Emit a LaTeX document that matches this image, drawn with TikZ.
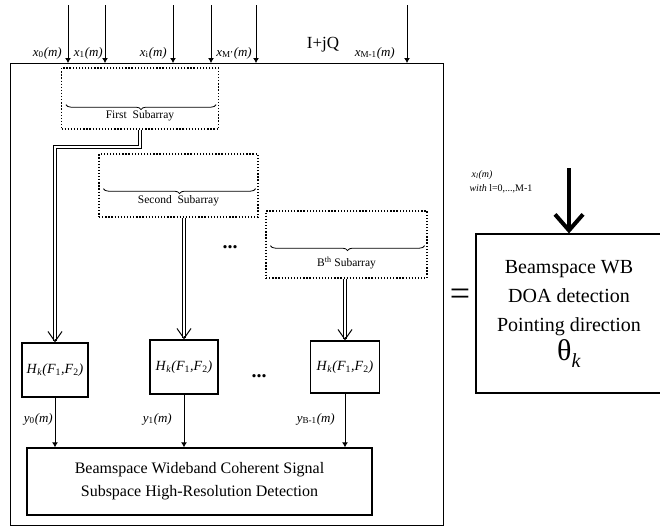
\documentclass[tikz,border=0pt]{standalone}
\usepackage{fontspec}
\setmainfont{Liberation Serif}
\usetikzlibrary{arrows.meta,positioning,calc,decorations.pathreplacing}
% signal names set in the text italic
\newcommand{\sig}[2]{\textit{#1}\textsubscript{#2}\textit{(m)}}
\newcommand{\hfilt}{\textit{H}\textsubscript{\textit{k}}\textit{(F}\textsubscript{1}\textit{,F}\textsubscript{2}\textit{)}}
\tikzset{
  frame/.style={draw=black, line width=1.3pt, inner sep=0pt},
  subbox/.style={draw=black, line width=1.3pt, dash pattern=on 1.3pt off 1.8pt, inner sep=0pt},
  filt/.style={draw=black, line width=1.3pt, inner sep=1pt, minimum height=54pt, font=\fontsize{14}{16}\selectfont},
  bigbox/.style={draw=black, line width=1.2pt, align=center, inner sep=2pt},
  brc/.style={decorate, decoration={brace, mirror, amplitude=5pt}, line width=0.8pt},
  sublbl/.style={inner sep=0pt, font=\fontsize{11.5}{13}\selectfont},
  lbl/.style={inner sep=0pt, font=\fontsize{13}{15}\selectfont},
  inarrow/.style={-{Latex[length=5pt,width=6pt]}, line width=1pt},
  dbl/.style={double, double distance=2pt, line width=1pt},
  barb/.style={-{Straight Barb[length=10pt,width=14pt]}, line width=1pt},
  bigarrow/.style={-{Straight Barb[length=16pt,width=28pt]}, line width=4pt},
  dots/.style={inner sep=0pt, font=\fontsize{20}{20}\selectfont\bfseries}
}

\begin{document}
\begin{tikzpicture}[x=1pt, y=-1pt]
\useasboundingbox (0,0) rectangle (660,528);

% outer frame and the array inputs
\node[frame, minimum width=433pt, minimum height=462pt, anchor=north west] (frame) at (10,63) {};
\foreach \xx [count=\i] in {68,105,173,211,256,407} {
  \coordinate (in\i) at (\xx,5);
  \draw[inarrow] (in\i) -- (in\i |- frame.north);
}
\foreach \lx/\nm/\sb in {62/x/0, 103/x/1, 167/x/i, 252/x/M', 395/x/M-1}
  \node[lbl, anchor=base east] at (\lx,56) {\sig{\nm}{\sb}};
\node[inner sep=0pt, font=\fontsize{17}{19}\selectfont] (iq) at (323,45) {I+jQ};

% subarrays
\node[subbox, minimum width=157pt, minimum height=61pt] (s1) at (140,98.5) {};
\node[subbox, minimum width=159pt, minimum height=63pt] (s2) at (178.5,185.5) {};
\node[subbox, minimum width=161pt, minimum height=67pt] (s3) at (346.5,244.5) {};
\draw[brc] ($(s1.south west)+(5,-25)$) -- ($(s1.south east)+(-3,-25)$);
\draw[brc] ($(s2.south west)+(5,-29)$) -- ($(s2.south east)+(-3,-29)$);
\draw[brc] ($(s3.south west)+(5,-33)$) -- ($(s3.south east)+(-3,-33)$);
\node[sublbl] (t1) at ($(s1.south)+(0,-14)$) {First\enspace Subarray};
\node[sublbl] (t2) at ($(s2.south)+(0,-17)$) {Second\enspace Subarray};
\node[sublbl] (t3) at ($(s3.south)+(0,-16)$) {B\textsuperscript{th} Subarray};
\node[dots] (d1) at (230,247) {...};

% beamforming filters
\node[filt, minimum width=66pt] (h1) at (55,370) {\hfilt};
\node[filt, minimum width=68pt] (h2) at (184,367) {\hfilt};
\node[filt, minimum width=69pt, minimum height=52pt] (h3) at (345,367) {\hfilt};
\node[dots] (d2) at (259,376) {...};

\draw[dbl] (s1.south) -- ++(0,17) -| ([yshift=1pt]h1.north);
\draw[dbl] (h2.north |- s2.south) -- ([yshift=1pt]h2.north);
\draw[dbl] (h3.north |- s3.south) -- ([yshift=1pt]h3.north);
\foreach \h in {h1,h2,h3}
  \draw[barb] ([yshift=3pt]\h.north) -- (\h.north);

% coherent detection
\node[bigbox, minimum width=345pt, minimum height=67pt, font=\fontsize{16}{23}\selectfont] (det) at (199.5,481.5)
  {Beamspace Wideband Coherent Signal\\Subspace High-Resolution Detection};
\foreach \h/\lx/\sb in {h1/53/0, h2/172/1, h3/335/B-1} {
  \draw[inarrow] (\h.south) -- (\h.south |- det.north);
  \node[lbl, anchor=base east] at (\lx,422) {\sig{y}{\sb}};
}

% equivalent DOA block
\node[inner sep=0pt, font=\fontsize{36}{36}\selectfont] (eq) at (460,297) {=};
\node[bigbox, minimum width=186pt, minimum height=159pt, font=\fontsize{20}{29}\selectfont] (doa) at (569,313.5)
  {Beamspace WB\\DOA detection\\Pointing direction\\{\fontsize{30}{30}\selectfont θ}\raisebox{-7pt}{\textit{k}}};
\coordinate (xin) at (569,168);
\draw[bigarrow] (xin) -- (doa.north);
\node[inner sep=0pt, font=\fontsize{10}{12}\selectfont] (xl) at (482,175) {\textit{x\textsubscript{l}(m)}};
\node[inner sep=0pt, font=\fontsize{10}{12}\selectfont] (wl) at (501,189) {\textit{with} l=0,...,M-1};
\end{tikzpicture}
\end{document}
